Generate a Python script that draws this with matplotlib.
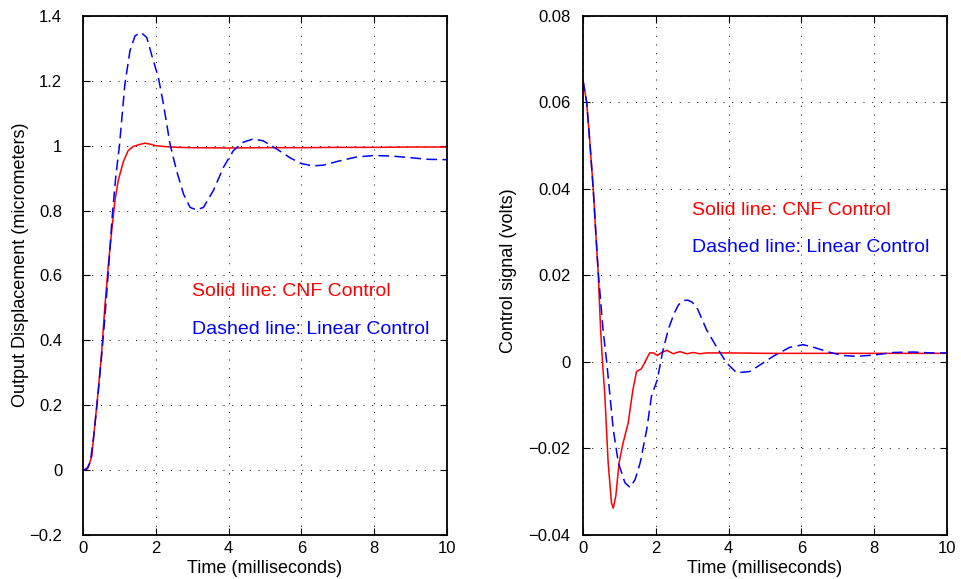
import matplotlib
matplotlib.use('Agg')
import matplotlib.pyplot as plt

plt.rcParams['font.family'] = ['Liberation Sans', 'DejaVu Sans']

# ---------------------------------------------------------------- #
# output displacement (micrometers) vs. time (milliseconds)

t_disp_cnf = [0, 0.14, 0.24, 0.33, 0.42, 0.51, 0.60, 0.70, 0.79, 0.88, 0.97,
              1.11, 1.24, 1.38, 1.56, 1.70, 1.84, 2.0, 2.3, 2.6, 3.0, 4.0,
              5.0, 6.0, 7.0, 8.0, 9.0, 10]
y_disp_cnf = [0, 0.007, 0.043, 0.146, 0.248, 0.361, 0.505, 0.638, 0.74, 0.833,
              0.894, 0.952, 0.985, 0.998, 1.004, 1.008, 1.005, 1.0, 0.997,
              0.995, 0.994, 0.993, 0.994, 0.994, 0.995, 0.995, 0.996, 0.996]

t_disp_lin = [0, 0.1, 0.2, 0.3, 0.4, 0.5, 0.6, 0.7, 0.8, 0.9, 1.0, 1.15, 1.29,
              1.43, 1.59, 1.75, 1.88, 2.07, 2.21, 2.39, 2.57, 2.76, 2.94, 3.12,
              3.31, 3.58, 3.86, 4.13, 4.4, 4.68, 4.95, 5.32, 5.7, 6.0, 6.3,
              6.6, 7.0, 7.5, 8.0, 8.5, 9.0, 9.5, 10]
y_disp_lin = [0, 0.003, 0.025, 0.11, 0.22, 0.34, 0.47, 0.62, 0.78, 0.905, 1.0,
              1.19, 1.293, 1.339, 1.349, 1.334, 1.282, 1.21, 1.128, 1.005,
              0.923, 0.851, 0.81, 0.802, 0.81, 0.862, 0.934, 0.985, 1.011,
              1.021, 1.015, 0.99, 0.962, 0.945, 0.938, 0.94, 0.952, 0.965,
              0.97, 0.968, 0.963, 0.958, 0.957]

# control signal (volts) vs. time (milliseconds)

t_ctrl_cnf = [0, 0.10, 0.19, 0.28, 0.35, 0.42, 0.48, 0.53, 0.60, 0.69, 0.78,
              0.83, 0.90, 0.99, 1.10, 1.24, 1.37, 1.47, 1.60, 1.69, 1.83,
              1.94, 2.04, 2.16, 2.30, 2.48, 2.66, 2.85, 3.03, 3.21, 3.39, 4,
              5, 6, 7, 8, 9, 10]
y_ctrl_cnf = [0.0651, 0.060, 0.0505, 0.040, 0.0298, 0.020, 0.008, 0.0005,
              -0.0079, -0.0233, -0.0325, -0.0338, -0.031, -0.0233, -0.0187,
              -0.0141, -0.0064, -0.0022, -0.0016, -0.0002, 0.0021, 0.0021,
              0.0015, 0.0022, 0.0027, 0.0019, 0.0024, 0.0019, 0.0022, 0.0019,
              0.0021, 0.0021, 0.002, 0.002, 0.002, 0.002, 0.002, 0.002]

t_ctrl_lin = [0, 0.10, 0.19, 0.28, 0.35, 0.42, 0.55, 0.65, 0.83, 0.97, 1.15,
              1.29, 1.43, 1.57, 1.75, 1.88, 2.04, 2.18, 2.34, 2.5, 2.62, 2.75,
              2.88, 3.0, 3.15, 3.39, 3.66, 3.94, 4.22, 4.58, 4.95, 5.22, 5.68,
              6.05, 6.33, 6.79, 7.15, 7.52, 7.98, 8.53, 9.08, 9.53, 10]
y_ctrl_lin = [0.0651, 0.060, 0.0505, 0.040, 0.030, 0.0205, 0.0074, 0.0,
              -0.0156, -0.0233, -0.0279, -0.029, -0.0272, -0.0233, -0.0156,
              -0.0079, -0.0041, 0.0021, 0.0075, 0.0112, 0.0132, 0.0142,
              0.0143, 0.0138, 0.0122, 0.0075, 0.0036, -0.0002, -0.0025,
              -0.0022, -0.0002, 0.0013, 0.0034, 0.004, 0.0034, 0.0022, 0.0015,
              0.0013, 0.0016, 0.0022, 0.0023, 0.0021, 0.0021]

disp_ticks = [-0.2, 0, 0.2, 0.4, 0.6, 0.8, 1, 1.2, 1.4]
ctrl_ticks = [-0.04, -0.02, 0, 0.02, 0.04, 0.06, 0.08]
time_ticks = [0, 2, 4, 6, 8, 10]

# ---------------------------------------------------------------- #

fig = plt.figure(figsize=(9.61, 5.79), dpi=100)
ax1 = fig.add_axes([0.0864, 0.076, 0.3788, 0.8964])
ax2 = fig.add_axes([0.6067, 0.076, 0.3788, 0.8964])


def fmt(v):
    return ('%g' % v).replace('-', '\u2212')


def style(ax, yticks, ylim, ylabel, pad, labelpad, label_y):
    ax.set_xlim(0, 10)
    ax.set_ylim(*ylim)
    ax.set_xticks(time_ticks)
    ax.set_xticklabels([fmt(v) for v in time_ticks])
    ax.set_yticks(yticks)
    ax.set_yticklabels([fmt(v) for v in yticks])
    ax.tick_params(direction='in', length=5, width=0.8, top=True, right=True,
                   labelsize=12)
    ax.tick_params(axis='y', pad=pad)
    ax.tick_params(axis='x', pad=4)
    ax.grid(True, linestyle=(0, (1, 8)), color='black', linewidth=0.7)
    for sp in ax.spines.values():
        sp.set_linewidth(1.3)
    ax.set_xlabel('Time (milliseconds)', fontsize=13, labelpad=3)
    ax.set_ylabel(ylabel, fontsize=13, labelpad=labelpad, y=label_y,
                  ha='center')


ax1.plot(t_disp_cnf, y_disp_cnf, color='red', linewidth=1.1)
ax1.plot(t_disp_lin, y_disp_lin, color='blue', linewidth=1.1,
         dashes=(7, 3.5))
ax1.text(3.0, 0.551, 'Solid line: CNF Control', color='red', fontsize=14,
         va='center')
ax1.text(3.0, 0.433, 'Dashed line: Linear Control', color='blue',
         fontsize=14, va='center')
style(ax1, disp_ticks, (-0.2, 1.4), 'Output Displacement (micrometers)',
      15, 0, 0.52)

ax2.plot(t_ctrl_cnf, y_ctrl_cnf, color='red', linewidth=1.1)
ax2.plot(t_ctrl_lin, y_ctrl_lin, color='blue', linewidth=1.1,
         dashes=(7, 3.5))
ax2.text(3.0, 0.0351, 'Solid line: CNF Control', color='red', fontsize=14,
         va='center')
ax2.text(3.0, 0.0265, 'Dashed line: Linear Control', color='blue',
         fontsize=14, va='center')
style(ax2, ctrl_ticks, (-0.04, 0.08), 'Control signal (volts)', 9, 8, 0.51)

fig.savefig('out.png', dpi=100)
